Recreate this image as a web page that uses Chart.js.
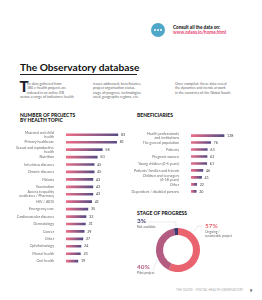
<!DOCTYPE html>
<html>
<head>
<meta charset="utf-8">
<script src="https://cdn.jsdelivr.net/npm/chart.js@4"></script>
<style>
  html, body { margin: 0; padding: 0; background: #fff; }
  #page { position: relative; width: 262px; height: 300px; overflow: hidden; font-family: Lato, "Open Sans", sans-serif; color: #222; }
  .abs { position: absolute; white-space: nowrap; }
  canvas { position: absolute; }
  .icon { left: 151px; top: 23px; width: 14px; height: 14px; border-radius: 50%; background: #4ea6c9; }
  .icon i { position: absolute; top: 6px; width: 2.2px; height: 2.2px; border-radius: 50%; background: #fff; }
  .consult { left: 173px; top: 24.5px; font-size: 4.6px; font-weight: 900; line-height: 5.6px; }
  .consult span { color: #e8507a; }
  .title { left: 20px; top: 61px; font-size: 10.2px; font-weight: 700; color: #111; }
  .rule { left: 20px; top: 73.5px; width: 117px; height: 0.8px; background: #222; }
  .txt { font-size: 3.55px; line-height: 4.4px; color: #666; }
  .cap { left: 19.5px; top: 79px; font-size: 15px; font-weight: 900; color: #1c1c2c; line-height: 15px; }
  .head { font-size: 5px; font-weight: 900; color: #1c1c1c; line-height: 5.3px; }
  .foot { left: 176px; top: 288px; font-size: 3px; color: #aaa; letter-spacing: 0.1px; }
  .pnum { left: 250px; top: 287.5px; font-size: 3.6px; color: #333; font-weight: 700; }
</style>
</head>
<body>
<div id="page">
  <div class="abs icon"><i style="left:3px"></i><i style="left:6px"></i><i style="left:9px"></i></div>
  <div class="abs consult">Consult all the data on:<br><span>www.odess.io/home.html</span></div>

  <div class="abs title">The Observatory database</div>
  <div class="abs rule"></div>

  <div class="abs cap">T</div>
  <div class="abs txt" style="left:27px;top:82px">he data gathered from<br>380 e-health projects are<br>indexed in an online DB</div>
  <div class="abs txt" style="left:20px;top:95.2px">across a range of indicators: health</div>
  <div class="abs txt" style="left:93px;top:82px">issues addressed, beneficiaries,<br>project organisation status,<br>stage of progress, technologies<br>used, geographic regions, etc.</div>
  <div class="abs txt" style="left:175px;top:82px">Once compiled, these data reveal<br>the dynamics and trends at work<br>in the countries of the Global South.</div>

  <div class="abs head" style="left:20px;top:112.5px">NUMBER OF PROJECTS<br>BY HEALTH TOPIC</div>
  <div class="abs head" style="left:137px;top:112.5px">BENEFICIARIES</div>
  <div class="abs head" style="left:137px;top:210.5px">STAGE OF PROGRESS</div>

  <canvas id="topics" width="131" height="148" style="left:0;top:125px"></canvas>
  <canvas id="benef" width="131" height="77" style="left:131px;top:126px"></canvas>
  <canvas id="stage" width="131" height="72" style="left:131px;top:215px"></canvas>

  <div class="abs foot">THE GUIDE - DIGITAL HEALTH OBSERVATORY</div>
  <div class="abs pnum">9</div>
</div>

<script>
const topicLabels = [
    ['Maternal and child', 'health'], 'Primary healthcare', ['Sexual and reproductive', 'health'],
    'Nutrition', 'Infectious diseases', 'Chronic diseases', 'Malaria', 'Vaccination',
    ['Access to quality', 'medicines / Pharmacy'], 'HIV / AIDS', 'Emergency care',
    'Cardiovascular diseases', 'Dermatology', 'Cancer', 'Other', 'Ophthalmology',
    'Mental health', 'Oral health'
];
const topicValues = [83, 81, 58, 50, 45, 45, 43, 43, 43, 41, 35, 32, 31, 29, 27, 24, 23, 19];

const benefLabels = [
    ['Health professionals', 'and institutions'], 'The general population', 'Patients',
    'Pregnant women', 'Young children (0-5 years)', "Patients' families and friends",
    ['Children and teenagers', '(6-18 years)'], 'Other', 'Dependent / disabled persons'
];
const benefValues = [128, 76, 63, 62, 61, 46, 41, 22, 20];

const stageLabels = [['Ongoing /', 'sustainable project'], ['Pilot project'], ['Not available']];
const stageValues = [57, 40, 3];
const stageColors = ['#ea6470', '#b45b82', '#3c3a6e'];

const FONT = 'Lato, "Open Sans", sans-serif';

// value printed right after each bar
const valueLabels = {
    id: 'valueLabels',
    afterDatasetsDraw(chart) {
        const ctx = chart.ctx;
        const meta = chart.getDatasetMeta(0);
        ctx.save();
        ctx.font = '3.7px ' + FONT;
        ctx.fillStyle = '#444';
        ctx.textBaseline = 'middle';
        meta.data.forEach((bar, i) => {
            ctx.fillText(chart.data.datasets[0].data[i], bar.x + 3, bar.y);
        });
        ctx.restore();
    }
};

function barGradient(c) {
    const chart = c.chart;
    if (!chart.chartArea) return '#b05a80';
    const x0 = chart.scales.x.getPixelForValue(0);
    const x1 = chart.scales.x.getPixelForValue(c.raw);
    const g = chart.ctx.createLinearGradient(x0, 0, x1, 0);
    g.addColorStop(0, '#ef6d86');
    g.addColorStop(1, '#574c85');
    return g;
}

function makeBars(id, labels, values, axisWidth, max) {
    return new Chart(document.getElementById(id), {
        type: 'bar',
        data: {
            labels: labels,
            datasets: [{ data: values, backgroundColor: barGradient, barThickness: 2 }]
        },
        options: {
            indexAxis: 'y',
            responsive: false,
            animation: false,
            layout: { padding: 0 },
            plugins: { legend: { display: false }, tooltip: { enabled: false } },
            scales: {
                x: { display: false, min: 0, max: max },
                y: {
                    grid: { display: false },
                    border: { display: false },
                    afterFit: (axis) => { axis.width = axisWidth; },
                    ticks: {
                        autoSkip: false,
                        padding: 4,
                        color: '#6a6a6a',
                        font: { family: FONT, size: 3.6, lineHeight: 1.15 }
                    }
                }
            }
        },
        plugins: [valueLabels]
    });
}

makeBars('topics', topicLabels, topicValues, 66, 104);
makeBars('benef', benefLabels, benefValues, 60, 275);

// leader lines and percentages round the doughnut
const stageNotes = {
    id: 'stageNotes',
    afterDatasetsDraw(chart) {
        const ctx = chart.ctx;
        const arcs = chart.getDatasetMeta(0).data;
        const cx = arcs[0].x, cy = arcs[0].y, r = arcs[0].outerRadius;
        const at = (deg, rr) => {
            const a = deg * Math.PI / 180;
            return [cx + rr * Math.sin(a), cy - rr * Math.cos(a)];
        };
        const notes = [
            { idx: 0, ang: 40, text: [74, 13], line: (p) => [[p[0] + 1, p[1] - 1], [p[0] + 6, 11], [73, 11]] },
            { idx: 1, ang: 245, text: [6, 54], line: (p) => [[p[0] - 1, p[1] + 1], [p[0] - 5, 55], [22, 55]] },
            { idx: 2, ang: 354.6, text: [6, 8], line: (p) => [[p[0], p[1] - 1], [p[0], 7], [17, 7]] }
        ];
        ctx.save();
        notes.forEach(n => {
            const p = at(n.ang, r);
            const pts = n.line(p);
            ctx.strokeStyle = '#c9c9c9';
            ctx.lineWidth = 0.4;
            ctx.beginPath();
            ctx.moveTo(pts[0][0], pts[0][1]);
            pts.slice(1).forEach(q => ctx.lineTo(q[0], q[1]));
            ctx.stroke();

            ctx.fillStyle = stageColors[n.idx];
            ctx.font = 'bold 6.4px ' + FONT;
            ctx.textBaseline = 'bottom';
            ctx.fillText(stageValues[n.idx] + '%', n.text[0], n.text[1] + 1);
            ctx.fillStyle = '#666';
            ctx.font = '3.3px ' + FONT;
            ctx.textBaseline = 'top';
            stageLabels[n.idx].forEach((s, k) => ctx.fillText(s, n.text[0], n.text[1] + 2 + k * 3.8));
        });
        ctx.restore();
    }
};

new Chart(document.getElementById('stage'), {
    type: 'doughnut',
    data: {
        labels: stageLabels.map(l => l.join(' ')),
        datasets: [{ data: stageValues, backgroundColor: stageColors, borderWidth: 0 }]
    },
    options: {
        responsive: false,
        animation: false,
        cutout: '68%',
        layout: { padding: { left: 0, right: 37, top: 13, bottom: 15 } },
        plugins: { legend: { display: false }, tooltip: { enabled: false } }
    },
    plugins: [stageNotes]
});
</script>
</body>
</html>
